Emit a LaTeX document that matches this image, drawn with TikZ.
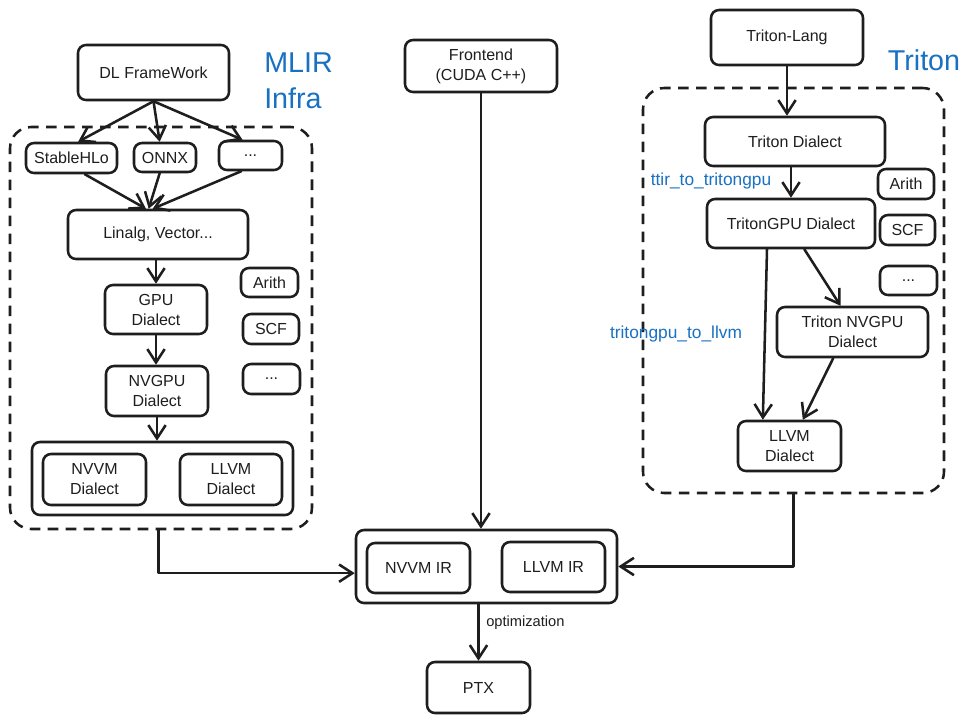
\documentclass[tikz,border=0pt]{standalone}
\usepackage{fontspec}
\setmainfont{Liberation Sans}
\usetikzlibrary{arrows.meta,calc}
\definecolor{ink}{HTML}{1E1E1E}
\definecolor{xblue}{HTML}{1971C2}
\begin{document}
\begin{tikzpicture}[x=0.75pt,y=-0.75pt,
  bx/.style n args={2}{rectangle, draw=ink, line width=1.9pt, rounded corners=6pt,
    minimum width=#1*0.75pt, minimum height=#2*0.75pt, inner sep=0pt, align=center,
    text=ink, font=\fontsize{12}{15}\selectfont},
  cont/.style n args={2}{rectangle, draw=ink, line width=1.9pt, dash pattern=on 8pt off 5.5pt,
    rounded corners=16pt, minimum width=#1*0.75pt, minimum height=#2*0.75pt, inner sep=0pt},
  arr/.style={draw=ink, line width=1.9pt, line cap=round, line join=round,
    -{Straight Barb[length=10pt,width=13pt,line width=1.9pt]}},
  lbl/.style={text=xblue, inner sep=0pt, font=\fontsize{13}{15}\selectfont},
  big/.style={text=xblue, inner sep=0pt, align=left, font=\fontsize{21.5}{27}\selectfont}
]
\useasboundingbox (0,0) rectangle (977,722);
\fill[white] (0,0) rectangle (977,722);

% ---------- left: MLIR ----------
\node[cont={302}{402}] (contL) at (161,328) {};
\node[big, anchor=west] (mlir) at (264,81) {MLIR\\Infra};
\node[bx={151}{55}] (dl) at (153.5,72.5) {DL FrameWork};
\node[bx={91}{30}] (shlo) at (71.5,158) {StableHLo};
\node[bx={62}{29}] (onnx) at (165,157.5) {ONNX};
\node[bx={63}{29}] (dotsA) at (250.5,155.5) {...};
\node[bx={180}{49}] (linalg) at (158,234.5) {Linalg, Vector...};
\node[bx={102}{49}] (gpu) at (156,309.5) {GPU\\Dialect};
\node[bx={102}{50}] (nvgpu) at (157,391) {NVGPU\\Dialect};
\node[bx={57}{29}] (arithL) at (269.5,282.5) {Arith};
\node[bx={56}{30}] (scfL) at (271,329) {SCF};
\node[bx={57}{30}] (dotsB) at (271.5,379) {...};
\node[bx={261}{73}] (dialL) at (162.5,478.5) {};
\node[bx={103}{51}] (nvvmD) at (94.5,479.5) {NVVM\\Dialect};
\node[bx={102}{51}] (llvmDL) at (231,479.5) {LLVM\\Dialect};

\draw[arr] (dl.south) -- ([xshift=5pt]shlo.north);
\draw[arr] (dl.south) -- ([xshift=-4pt]onnx.north);
\draw[arr] (dl.south) -- ([xshift=-6pt]dotsA.north);
\draw[arr] ([xshift=10pt]shlo.south) -- ([xshift=-9pt]linalg.north);
\draw[arr] ([xshift=-4pt]onnx.south) -- ([xshift=-7pt]linalg.north);
\draw[arr] ([xshift=-7pt]dotsA.south) -- ([xshift=-4pt]linalg.north);
\draw[arr] (gpu.north |- linalg.south) -- (gpu.north);
\draw[arr] (gpu.south) -- (gpu.south |- nvgpu.north);
\draw[arr] (nvgpu.south) -- (nvgpu.south |- dialL.north);

% ---------- middle ----------
\node[bx={152}{52}] (fe) at (481,66) {Frontend\\(CUDA C++)};
\node[bx={261}{73}] (irbox) at (486.5,566.5) {};
\node[bx={103}{50}] (nvvmIR) at (418.5,568) {NVVM IR};
\node[bx={103}{50}] (llvmIR) at (553.5,567) {LLVM IR};
\node[bx={103}{51}] (ptx) at (478.5,687.5) {PTX};
\node[inner sep=0pt, anchor=west, text=ink, font=\fontsize{11}{13}\selectfont] (opt) at (486,623) {optimization};

\draw[arr] (fe.south) -- (fe.south |- irbox.north);
\draw[arr] (ptx.north |- irbox.south) -- (ptx.north);
\draw[arr] ([xshift=-2pt]contL.south) |- ([yshift=-5pt]irbox.west);

% ---------- right: Triton ----------
\node[cont={301}{405}] (contR) at (793.5,290.5) {};
\node[big, anchor=center] (triton) at (924,60) {Triton};
\node[bx={152}{55}] (tl) at (787,37.5) {Triton-Lang};
\node[bx={180}{49}] (td) at (795,141.5) {Triton Dialect};
\node[bx={168}{49}] (tgpu) at (791,223.5) {TritonGPU Dialect};
\node[bx={56}{30}] (arithR) at (906,184) {Arith};
\node[bx={55}{30}] (scfR) at (907.5,230) {SCF};
\node[bx={57}{29}] (dotsR) at (908.5,280.5) {...};
\node[bx={151}{50}] (tnvgpu) at (852.5,332) {Triton NVGPU\\Dialect};
\node[bx={103}{50}] (llvmDR) at (789.5,446) {LLVM\\Dialect};
\node[lbl] (ttir) at (711,181) {ttir\_to\_tritongpu};
\node[lbl] (tgl) at (676,334) {tritongpu\_to\_llvm};

\draw[arr] (tl.south) -- (tl.south |- td.north);
\draw[arr] (tgpu.north |- td.south) -- (tgpu.north);
\draw[arr] ([xshift=-18pt]tgpu.south) -- ([xshift=-20pt]llvmDR.north);
\draw[arr] ([xshift=10pt]tgpu.south) -- ([xshift=-9pt]tnvgpu.north);
\draw[arr] ([xshift=-14.5pt]tnvgpu.south) -- ([xshift=10pt]llvmDR.north);
\draw[arr] (contR.south) |- (irbox.east);
\end{tikzpicture}
\end{document}
